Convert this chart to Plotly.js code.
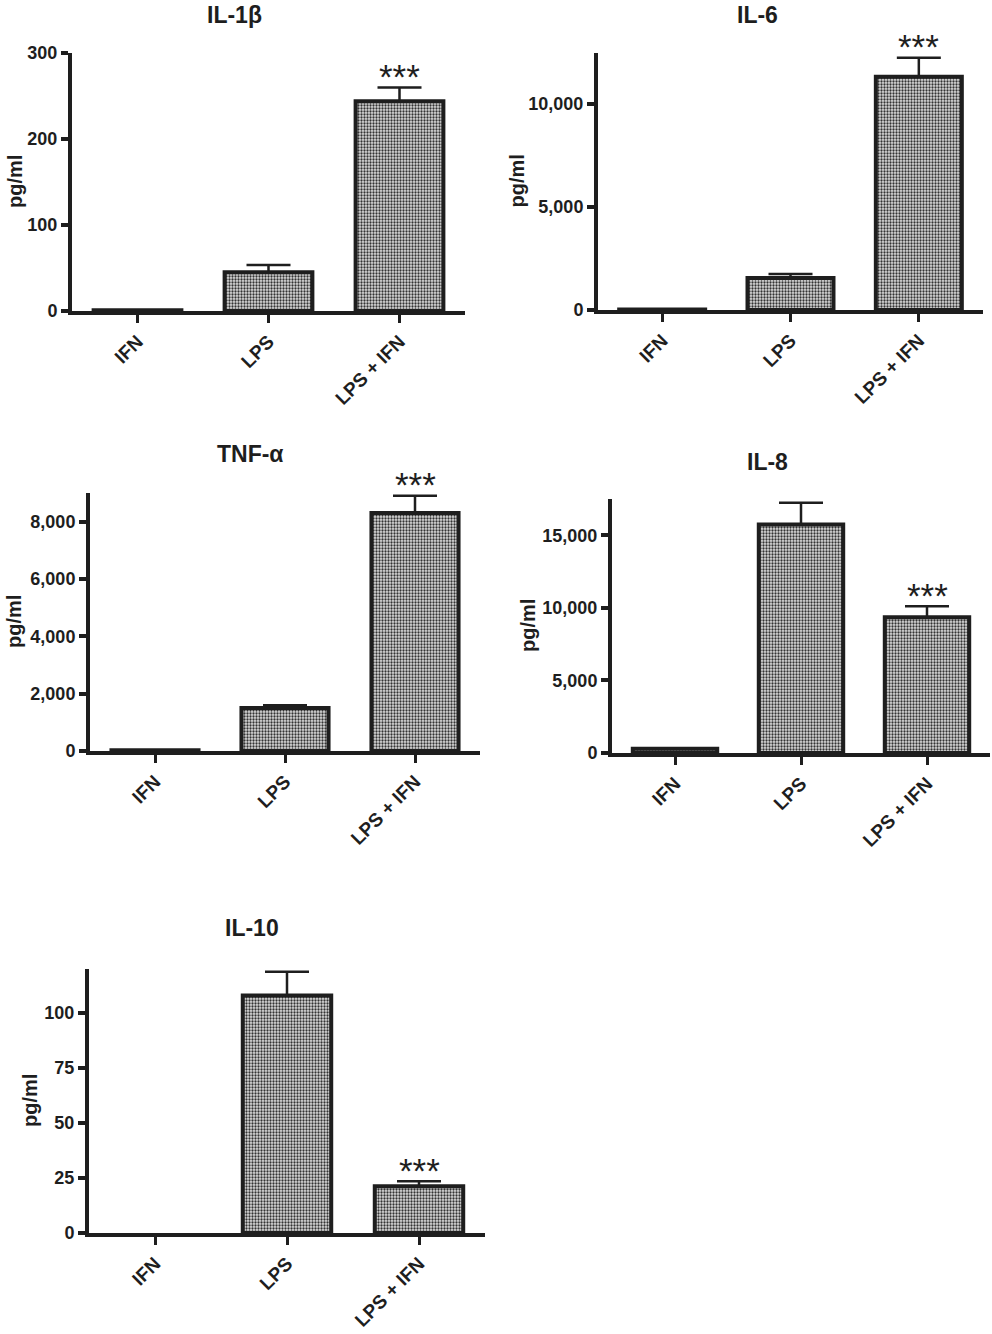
<!DOCTYPE html>
<html>
<head>
<meta charset="utf-8">
<script src="https://cdn.plot.ly/plotly-3.0.1.min.js"></script>
<style>html,body{margin:0;padding:0;background:#fff;}#chart{width:992px;height:1334px;}</style>
</head>
<body>
<div id="chart"></div>
<script>
// ---- data ----
var categories = ['IFN', 'LPS', 'LPS + IFN'];

var panelTitles = ['IL-1β', 'IL-6', 'TNF-α', 'IL-8', 'IL-10'];
var yAxisLabel = 'pg/ml';

var il1bMeans = [1, 45, 244];
var il1bErrors = [null, 8.5, 16];
var il1bSig = ['', '', '***'];
var il1bTicks = [0, 100, 200, 300];

var il6Means = [20, 1550, 11300];
var il6Errors = [null, 190, 920];
var il6Sig = ['', '', '***'];
var il6Ticks = [0, 5000, 10000];

var tnfMeans = [30, 1500, 8300];
var tnfErrors = [null, 100, 600];
var tnfSig = ['', '', '***'];
var tnfTicks = [0, 2000, 4000, 6000, 8000];

var il8Means = [300, 15750, 9350];
var il8Errors = [null, 1500, 760];
var il8Sig = ['', '', '***'];
var il8Ticks = [0, 5000, 10000, 15000];

var il10Means = [0, 108, 21.3];
var il10Errors = [null, 10.7, 2.2];
var il10Sig = ['', '', '***'];
var il10Ticks = [0, 25, 50, 75, 100];

// ---- layout helpers ----
var W = 992, H = 1334;
var INK = '#1e1e1e';
var FONT = 'Liberation Sans, Arial, Helvetica, sans-serif';

// pixel boxes [left, right, top, bottom] and y max per panel
var panels = [
  {means: il1bMeans, errs: il1bErrors, sig: il1bSig, ticks: il1bTicks, ymax: 300,   box: [72, 465, 53, 311],   titleXY: [234, 15],  ylabX: 15},
  {means: il6Means,  errs: il6Errors,  sig: il6Sig,  ticks: il6Ticks,  ymax: 12450, box: [598, 983, 53, 310],  titleXY: [757, 15],  ylabX: 516},
  {means: tnfMeans,  errs: tnfErrors,  sig: tnfSig,  ticks: tnfTicks,  ymax: 9000,  box: [90, 480, 493, 751],  titleXY: [250, 454], ylabX: 14},
  {means: il8Means,  errs: il8Errors,  sig: il8Sig,  ticks: il8Ticks,  ymax: 17500, box: [612, 990, 499, 753], titleXY: [767, 462], ylabX: 528},
  {means: il10Means, errs: il10Errors, sig: il10Sig, ticks: il10Ticks, ymax: 120,   box: [89, 485, 969, 1233], titleXY: [252, 928], ylabX: 30}
];

var data = [];
var layout = {
  width: W, height: H,
  margin: {l: 0, r: 0, t: 0, b: 0},
  paper_bgcolor: '#fff', plot_bgcolor: '#fff',
  showlegend: false,
  bargap: 0.33,
  font: {family: FONT, color: INK},
  annotations: []
};

panels.forEach(function (p, i) {
  var n = i === 0 ? '' : String(i + 1);
  var xa = 'x' + n, ya = 'y' + n;
  data.push({
    type: 'bar',
    x: categories,
    y: p.means,
    xaxis: xa, yaxis: ya,
    marker: {
      color: '#a0a0a0',
      line: {color: INK, width: p.means.map(function (v) { return v > 0 ? 4 : 0; })},
      pattern: {shape: '.', size: 3, solidity: 0.45, fgcolor: '#333', bgcolor: '#dcdcdc', fillmode: 'replace'}
    },
    error_y: {
      type: 'data', symmetric: false,
      array: p.errs.map(function (v) { return v === null ? NaN : v; }),
      arrayminus: p.errs.map(function (v) { return v === null ? NaN : 0; }),
      color: INK, thickness: 2.5, width: 22
    },
    hoverinfo: 'x+y'
  });
  var b = p.box;
  layout['xaxis' + n] = {
    domain: [b[0] / W, b[1] / W],
    anchor: ya,
    type: 'category',
    range: [-0.5, 2.5],
    showline: true, linecolor: INK, linewidth: 4,
    ticks: 'outside', ticklen: 8, tickwidth: 3, tickcolor: INK,
    tickangle: -45,
    tickfont: {family: FONT, size: 19, color: INK, weight: 'bold'},
    showgrid: false, zeroline: false, fixedrange: true
  };
  layout['yaxis' + n] = {
    domain: [1 - b[3] / H, 1 - b[2] / H],
    anchor: xa,
    range: [0, p.ymax],
    tickvals: p.ticks,
    tickformat: ',',
    showline: true, linecolor: INK, linewidth: 4,
    ticks: 'outside', ticklen: 7, tickwidth: 4, tickcolor: INK,
    tickfont: {family: FONT, size: 18, color: INK, weight: 'bold'},
    showgrid: false, zeroline: false, fixedrange: true
  };
  // panel title
  layout.annotations.push({
    xref: 'paper', yref: 'paper',
    x: p.titleXY[0] / W, y: 1 - p.titleXY[1] / H,
    xanchor: 'center', yanchor: 'middle',
    text: panelTitles[i], showarrow: false,
    font: {family: FONT, size: 23, color: INK, weight: 'bold'}
  });
  // y-axis label
  layout.annotations.push({
    xref: 'paper', yref: 'paper',
    x: p.ylabX / W, y: 1 - ((b[2] + b[3]) / 2) / H,
    xanchor: 'center', yanchor: 'middle', textangle: -90,
    text: yAxisLabel, showarrow: false,
    font: {family: FONT, size: 20, color: INK, weight: 'bold'}
  });
  // significance stars
  p.sig.forEach(function (s, k) {
    if (!s) return;
    layout.annotations.push({
      xref: xa, yref: ya,
      x: categories[k], y: p.means[k] + (p.errs[k] || 0),
      xanchor: 'center', yanchor: 'middle', yshift: 11,
      text: s, showarrow: false,
      font: {family: FONT, size: 35, color: INK}
    });
  });
});

Plotly.newPlot('chart', data, layout, {displayModeBar: false, staticPlot: true});
</script>
</body>
</html>
